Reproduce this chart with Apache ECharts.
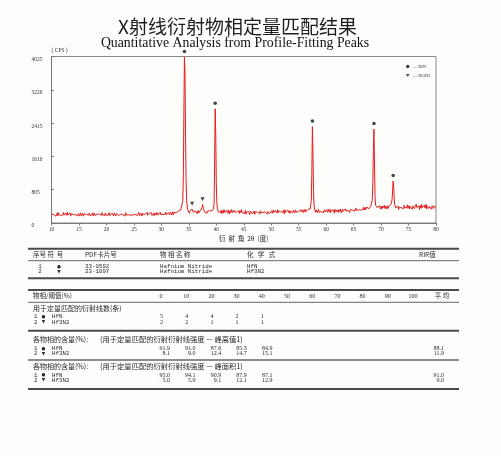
<!DOCTYPE html>
<html><head><meta charset="utf-8">
<script src="https://cdn.jsdelivr.net/npm/echarts@6/dist/echarts.min.js"></script>
<style>html,body{margin:0;padding:0;background:#fdfdfb}#c{width:501px;height:456px}</style>
</head><body><div id="c"></div><script>
// ---------- DATA ----------
const titleCn = 'X射线衍射物相定量匹配结果';
const titleEn = 'Quantitative Analysis from Profile-Fitting Peaks';
const xAxisTitle = '衍  射  角  2θ  (度)';
const yAxisTitle = '( CPS )';
const xTicks = [10, 80, 5];            // min, max, step of 2θ axis
const yTicks = [0, 4025, 805];         // min, max, step of CPS axis
const startAngle = 10.0;               // 2θ of first count
const stepAngle = 0.1;                 // 2θ step between counts
const counts = [
// 10.0 - 14.9
212,187,238,173,203,250,193,220,164,207,230,180,259,196,175,221,243,184,209,160,
229,200,254,189,216,169,239,211,182,263,196,225,176,205,245,166,218,193,234,185,
207,250,173,223,198,182,241,212,167,229,
// 15.0 - 19.9
203,180,226,246,172,210,188,235,164,209,222,193,255,178,204,231,170,216,190,244,
183,206,167,225,197,248,175,214,237,186,200,161,229,209,181,241,193,218,172,234,
204,184,250,195,168,223,211,177,243,191,
// 20.0 - 24.9
214,172,231,188,204,252,177,220,164,211,237,190,206,175,245,197,222,170,229,184,
209,257,181,200,159,226,214,192,242,174,202,232,183,211,166,249,193,218,177,228,
198,172,240,207,186,220,164,234,195,213,
// 25.0 - 29.9
187,228,206,174,243,213,183,223,197,256,175,216,192,237,205,168,230,218,184,246,
201,179,225,211,260,186,214,172,239,198,226,191,248,180,219,206,232,177,245,204,
218,190,253,211,195,237,178,223,262,203,
// 30.0 - 34.9
220,188,240,207,252,182,227,212,263,195,232,210,183,248,222,198,259,214,243,190,
272,225,203,261,234,214,276,242,219,283,245,290,252,301,268,312,281,325,360,520,
1150,2600,4010,3650,2150,1050,560,410,318,296,
// 35.0 - 39.9
275,238,296,255,305,318,336,296,262,240,268,230,292,247,281,226,261,303,244,287,
256,300,270,318,372,445,398,325,282,258,298,242,279,236,290,254,310,262,295,318,
285,322,292,296,305,345,470,1450,2760,2150,
// 40.0 - 44.9
980,480,345,305,268,293,234,287,258,311,226,270,296,240,324,255,282,231,306,262,
293,236,313,266,218,300,250,276,327,244,286,232,309,258,279,221,304,272,242,316,
257,290,229,300,268,247,322,253,278,236,
// 45.0 - 49.9
280,224,262,305,214,267,246,293,221,275,254,203,286,238,265,305,219,260,244,290,
209,271,249,303,235,262,216,284,253,224,296,241,269,207,278,256,232,302,221,266,
251,285,237,216,276,262,306,226,270,244,
// 50.0 - 54.9
258,299,235,277,316,249,286,222,303,265,279,238,322,268,247,292,230,281,311,254,
272,243,304,285,226,321,260,295,270,240,312,276,252,301,234,285,331,259,280,247,
308,268,292,241,318,277,262,303,253,284,
// 55.0 - 59.9
270,312,255,290,328,262,300,278,320,253,298,282,335,268,311,290,258,326,302,345,
318,340,375,540,1250,2330,1720,760,430,338,300,258,315,272,250,298,330,262,284,240,
305,276,252,322,292,246,280,318,266,296,
// 60.0 - 64.9
278,320,291,256,335,300,276,325,245,304,290,338,262,314,282,235,330,302,268,318,
350,286,258,324,296,272,338,305,245,292,330,280,312,264,300,343,289,255,324,275,
308,355,286,254,326,298,280,342,310,288,
// 65.0 - 69.9
300,345,285,325,362,305,330,286,352,320,292,340,368,310,338,296,355,326,380,312,
335,375,322,350,384,338,360,394,346,380,372,398,405,430,560,950,1750,2270,1500,640,
430,384,428,370,345,402,360,418,372,338,
// 70.0 - 74.9
400,345,410,358,322,386,425,350,402,368,336,418,378,352,410,436,388,430,450,480,
560,780,1015,830,560,440,400,364,405,350,358,410,325,384,432,346,400,370,336,414,
382,342,428,364,398,326,410,376,440,352,
// 75.0 - 80.0
380,420,338,402,355,440,372,330,414,386,432,350,400,362,452,378,340,418,368,404,
322,428,390,355,445,372,410,335,402,430,360,388,452,342,414,378,425,350,400,440,
366,408,332,420,380,448,352,404,372,428,390
];
const phaseNames = ['HfN', 'Hf3N2'];
const phaseSymbols = ['●', '▼'];
const pdfCards = ['33-0592', '23-1097'];
const phaseFullNames = ['Hafnium Nitride', 'Hafnium Nitride'];
const hfnPeaks = [[34.2, 4010], [39.8, 2760], [57.5, 2330], [68.7, 2270], [72.2, 1015]];
const hf3n2Peaks = [[35.6, 336], [37.5, 445]];
const thresholds = ['0', '10', '20', '30', '40', '50', '60', '70', '80', '90', '100'];
const lineCounts = [[5, 4, 4, 2, 1], [2, 2, 1, 1, 1]];
const heightContent = [[91.9, 91.0, 87.6, 85.3, 84.9], [8.1, 9.0, 12.4, 14.7, 15.1]];
const heightAvg = [88.1, 11.9];
const areaContent = [[95.0, 94.1, 90.9, 87.9, 87.1], [5.0, 5.9, 9.1, 12.1, 12.9]];
const areaAvg = [91.0, 9.0];
const headerCols = ['序号 符  号', 'PDF卡片号', '物 相 名 称', '化   学   式', 'RIR值'];
const thresholdHead = '物相/阈值(%)';
const avgHead = '平 均';
const countHead = '用于定量匹配的衍射线数(条)';
const contentHead = '各物相的含量(%):';
const heightHead = '(用于定量匹配的衍射衍射线强度 — 峰高值1)';
const areaHead = '(用于定量匹配的衍射衍射线强度 — 峰面积1)';

// ---------- DRAW ----------
const G = [];
const CJK = '"Noto Sans CJK SC"';
const MONO = '"Liberation Mono", "DejaVu Sans Mono", ' + CJK;
function txt(x, y, s, font, align, fill) {
  G.push({type: 'text', x: x, y: y, silent: true, z: 10,
    style: {text: s, font: font, fill: fill || '#2a2a2a',
      textAlign: align || 'left', textVerticalAlign: 'middle',
      align: align || 'left', verticalAlign: 'middle'}});
}
function hline(y, w, c) {
  G.push({type: 'line', silent: true, z: 10,
    shape: {x1: 28, y1: y, x2: 459, y2: y},
    style: {stroke: c || '#4a4a4a', lineWidth: w}});
}
// titles
txt(237.5, 27, titleCn, '19px ' + CJK, 'center', '#1e1e1e');
txt(235, 43.5, titleEn, '13.8px "Liberation Serif"', 'center', '#111');

// table 1
const hdrX = [33, 85, 160, 247, 419];
hline(248.7, 2);
headerCols.forEach((h, i) => txt(hdrX[i], 254.5, h, '6.5px ' + CJK));
hline(260.7, 1, '#666');
const r1Y = [266.7, 271.9];
phaseNames.forEach((p, i) => {
  txt(40, r1Y[i], String(i + 1), '5.8px ' + MONO, 'center');
  txt(59, r1Y[i], phaseSymbols[i], '4.5px "DejaVu Sans"', 'center');
  txt(85, r1Y[i], pdfCards[i], '5.8px ' + MONO);
  txt(160, r1Y[i], phaseFullNames[i], '5.8px ' + MONO);
  txt(247, r1Y[i], p, '5.8px ' + MONO);
});
hline(278.3, 2);

// table 2
const colX = i => 161 + 25.2 * i;
const valR = i => 170 + 25.6 * i;
hline(290, 2);
txt(33, 296, thresholdHead, '6.5px ' + CJK);
thresholds.forEach((t, i) => txt(colX(i), 296, t, '6px "Liberation Serif"', 'center'));
txt(442, 296, avgHead, '6.5px ' + CJK, 'center');
hline(302.3, 1, '#666');
function rowLabels(y, i) {
  txt(34, y, String(i + 1), '5.8px ' + MONO);
  txt(43.5, y, phaseSymbols[i], '4.5px "DejaVu Sans"', 'center');
  txt(52, y, phaseNames[i], '5.8px ' + MONO);
}
txt(33, 308.5, countHead, '7px ' + CJK);
const r2Y = [316.7, 322.3];
lineCounts.forEach((row, i) => {
  rowLabels(r2Y[i], i);
  row.forEach((v, j) => txt(colX(j) + 0.5, r2Y[i], String(v), '6px "Liberation Serif"', 'center'));
});
hline(330.7, 2);
txt(33, 339.5, contentHead, '7px ' + CJK);
txt(100, 339.5, heightHead, '7.3px ' + CJK);
const r3Y = [348.5, 353.8];
heightContent.forEach((row, i) => {
  rowLabels(r3Y[i], i);
  row.forEach((v, j) => txt(valR(j), r3Y[i], v.toFixed(1), '6px "Liberation Serif"', 'right'));
  txt(444, r3Y[i], heightAvg[i].toFixed(1), '6px "Liberation Serif"', 'right');
});
hline(360, 1.5, '#666');
txt(33, 366, contentHead, '7px ' + CJK);
txt(100, 366, areaHead, '7.3px ' + CJK);
const r4Y = [375, 380.3];
areaContent.forEach((row, i) => {
  rowLabels(r4Y[i], i);
  row.forEach((v, j) => txt(valR(j), r4Y[i], v.toFixed(1), '6px "Liberation Serif"', 'right'));
  txt(444, r4Y[i], areaAvg[i].toFixed(1), '6px "Liberation Serif"', 'right');
});
hline(389, 2);

const downTri = 'path://M0,0L10,0L5,9Z';
const chart = echarts.init(document.getElementById('c'));
const pts = counts.map((v, i) => [+(startAngle + i * stepAngle).toFixed(1), v]);
chart.setOption({
  backgroundColor: '#fdfdfb',
  animation: false,
  grid: {left: 51.5, right: 65, top: 56.5, bottom: 233, show: true,
    borderColor: '#8a8a8a', borderWidth: 1},
  xAxis: {type: 'value', min: xTicks[0], max: xTicks[1], interval: xTicks[2],
    axisLine: {lineStyle: {color: '#777', width: 1}},
    axisTick: {length: 2.5, lineStyle: {color: '#777'}},
    axisLabel: {fontSize: 5.5, color: '#333', margin: 4, fontFamily: 'Liberation Serif'},
    splitLine: {show: false},
    name: xAxisTitle, nameLocation: 'middle', nameGap: 12,
    nameTextStyle: {fontSize: 6.5, color: '#222', fontFamily: 'Noto Sans CJK SC'}},
  yAxis: {type: 'value', min: yTicks[0], max: yTicks[1], interval: yTicks[2],
    axisLine: {show: true, lineStyle: {color: '#777'}},
    axisTick: {show: true, inside: true, length: 2.5, lineStyle: {color: '#777'}},
    axisLabel: {fontSize: 5.5, color: '#333', margin: 20, align: 'left', verticalAlign: 'top',
      fontFamily: 'Liberation Serif', formatter: v => String(v)},
    splitLine: {show: false},
    name: yAxisTitle, nameLocation: 'end', nameGap: 3,
    nameTextStyle: {fontSize: 5.5, color: '#333', align: 'left', fontFamily: 'Liberation Serif'}},
  legend: {left: 401, top: 59, orient: 'vertical', itemWidth: 3.5, itemHeight: 3.5, itemGap: 4,
    data: phaseNames, formatter: n => '— ' + n,
    textStyle: {fontSize: 4.5, color: '#333', fontFamily: 'Liberation Serif', padding: [0, 0, 0, -2]}},
  series: [
    {type: 'line', name: 'XRD', data: pts, showSymbol: false, symbol: 'none',
      lineStyle: {color: '#e41c1c', width: 1}, z: 2},
    {type: 'scatter', name: phaseNames[0], data: hfnPeaks, symbol: 'circle', symbolSize: 3.5,
      symbolOffset: [0, -5.5], clip: false, itemStyle: {color: '#111'}, z: 5},
    {type: 'scatter', name: phaseNames[1], data: hf3n2Peaks, symbol: downTri, symbolSize: [4, 3.6],
      symbolOffset: [0, -5.5], clip: false, itemStyle: {color: '#111'}, z: 5}
  ],
  graphic: G
});
</script></body></html>
